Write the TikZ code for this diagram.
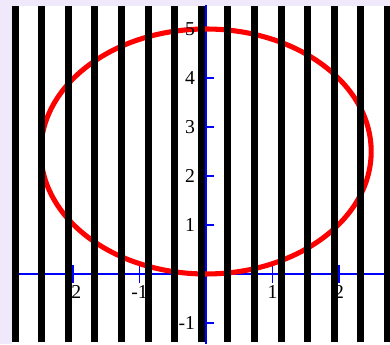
\documentclass[tikz,border=0pt]{standalone}
\usepackage{xcolor}
\usepackage{fontspec}
\setmainfont{Liberation Serif}
\definecolor{lavbg}{RGB}{240,233,251}

\begin{document}
\begin{tikzpicture}[x=1.6625cm,y=1.225cm,
  axis/.style={blue,line width=1.4pt},
  bar/.style={black,line width=5pt},
  curve/.style={red,line width=3.6pt},
  every node/.style={font=\fontsize{14}{16}\selectfont,inner sep=0pt}]
\useasboundingbox[fill=lavbg] (-3.098,-1.429) rectangle (2.767,5.592);
\fill[white] (-2.917,-1.429) rectangle (2.767,5.469);
% axes
\draw[axis] (-2.827,0) -- (2.767,0);
\draw[axis] (0,-1.429) -- (0,5.5);
\foreach \x in {-2,-1,1,2}
  \draw[axis] (\x,-0.18) -- (\x,0.18);
\foreach \y in {-1,1,2,3,4,5}
  \draw[axis] (-0.12,\y) -- (0.12,\y);
% the curve
\draw[curve] (0,2.5) ellipse [x radius=4.13cm, y radius=3.0625cm];
% vertical bars
\foreach \k in {0,...,14}
  \draw[bar] ({-2.87+0.4*\k},-1.388) -- ({-2.87+0.4*\k},5.469);
% tick labels
\foreach \x/\t in {-2/-2,-1/-1,1/1,2/2}
  \node[anchor=north] (lx\x) at (\x,-0.224) {\t};
\foreach \y/\t in {-1/-1,1/1,2/2,3/3,4/4,5/5}
  \node[anchor=east] (ly\y) at (-0.16,\y) {\t};
\end{tikzpicture}
\end{document}
